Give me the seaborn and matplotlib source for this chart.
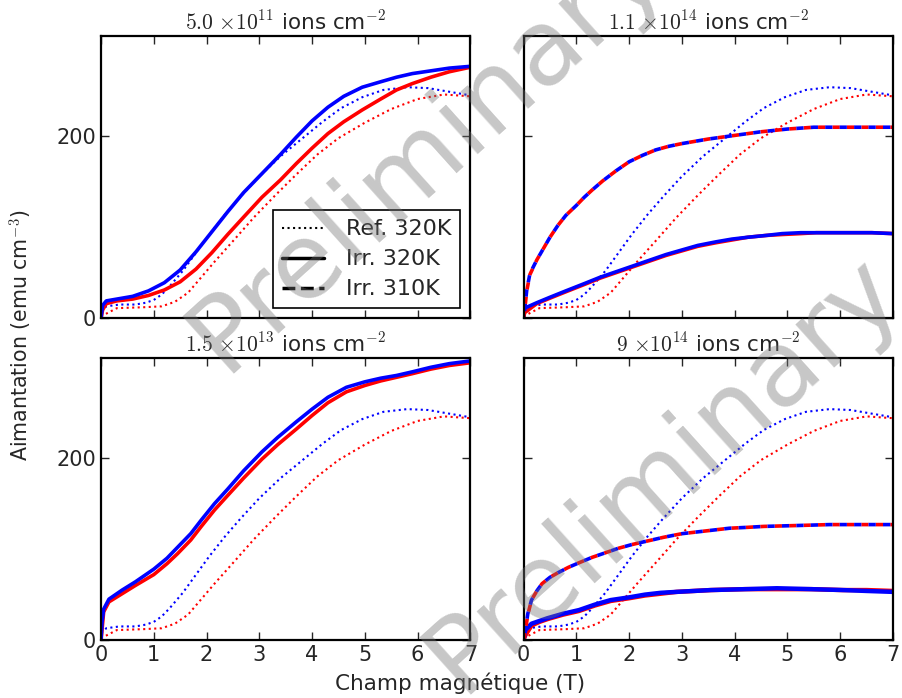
import numpy as np
import pandas as pd
import seaborn as sns
import matplotlib.pyplot as plt
from matplotlib.lines import Line2D

# reference sample (same in every panel), dotted
ref_blue_field = [0, 0.1, 0.35, 0.65, 0.85, 1.0, 1.15, 1.3, 1.55, 1.8, 2.05, 2.35, 2.65, 3.0, 3.4, 3.8, 4.2, 4.55, 4.95, 5.35, 5.8, 6.2, 6.6, 7.0]
ref_blue = [8, 13, 15, 15, 17, 20, 26, 35, 52, 72, 92, 114, 134, 156, 178, 197, 216, 231, 243, 251, 254, 253, 249, 245]
ref_red_field = [0, 0.1, 0.3, 0.8, 1.15, 1.4, 1.65, 1.9, 2.15, 2.55, 2.9, 3.3, 3.7, 4.1, 4.5, 5.0, 5.5, 6.0, 6.5, 7.0]
ref_red = [2, 5, 11, 12, 13, 18, 28, 45, 62, 88, 111, 135, 158, 180, 198, 215, 230, 241, 246, 244]

# 5.0e11 ions/cm2, irr. 320K
tl_field = [0, 0.03, 0.1, 0.3, 0.6, 0.9, 1.2, 1.5, 1.8, 2.1, 2.4, 2.7, 3.05, 3.4, 3.7, 4.0, 4.3, 4.6, 4.95, 5.3, 5.6, 5.9, 6.25, 6.6, 7.0]
tl_blue = [0, 14, 19, 21, 24, 30, 39, 53, 73, 95, 117, 138, 159, 180, 199, 217, 232, 244, 254, 260, 265, 269, 272, 275, 277]
tl_red = [0, 9, 16, 19, 21, 25, 31, 40, 54, 72, 92, 111, 133, 152, 170, 187, 203, 216, 229, 241, 251, 258, 265, 271, 276]

# 1.5e13 ions/cm2, irr. 320K
bl_field = [0, 0.02, 0.05, 0.15, 0.4, 0.65, 1.0, 1.25, 1.45, 1.7, 1.9, 2.15, 2.4, 2.7, 3.05, 3.35, 3.7, 4.0, 4.3, 4.65, 5.0, 5.3, 5.6, 5.9, 6.25, 6.6, 7.0]
bl_blue = [0, 20, 34, 45, 55, 64, 78, 90, 102, 117, 132, 150, 166, 186, 207, 223, 240, 254, 267, 278, 284, 288, 291, 295, 300, 304, 307]
bl_red = [0, 12, 31, 42, 51, 60, 72, 84, 95, 110, 125, 143, 159, 178, 199, 215, 232, 247, 261, 273, 280, 285, 289, 293, 298, 302, 305]

# 1.1e14 ions/cm2
tr_field = [0, 0.02, 0.25, 0.5, 0.8, 1.15, 1.45, 1.75, 2.05, 2.4, 2.7, 3.0, 3.3, 3.65, 3.95, 4.25, 4.6, 4.9, 5.25, 5.55, 6.15, 6.6, 7.0]
tr_blue = [0, 11, 17, 23, 30, 38, 45, 51, 57, 64, 70, 75, 80, 84, 87, 89, 91, 93, 94, 94, 94, 94, 93]
tr_red = [0, 6, 16, 22, 29, 37, 44, 50, 56, 63, 69, 74, 79, 83, 86, 89, 91, 92, 93, 94, 94, 94, 93]
tr_dash_field = [0, 0.03, 0.06, 0.12, 0.25, 0.35, 0.5, 0.65, 0.8, 1.0, 1.15, 1.3, 1.5, 1.75, 2.0, 2.25, 2.5, 2.75, 3.0, 3.5, 4.0, 4.5, 5.0, 5.5, 6.15, 7.0]
tr_dash_blue = [0, 15, 31, 49, 64, 74, 89, 102, 113, 124, 133, 141, 151, 162, 172, 179, 185, 189, 192, 197, 201, 205, 208, 210, 210, 210]
tr_dash_red = [0, 14, 30, 48, 64, 74, 89, 102, 113, 124, 133, 141, 151, 162, 172, 179, 185, 189, 192, 197, 201, 205, 208, 210, 210, 210]

# 9e14 ions/cm2
br_field = [0, 0.03, 0.15, 0.3, 0.45, 0.75, 1.05, 1.35, 1.65, 2.0, 2.3, 2.6, 2.9, 3.55, 4.2, 4.8, 5.45, 6.05, 6.5, 7.0]
br_blue = [0, 11, 18, 21, 24, 29, 33, 39, 44, 47, 50, 52, 53, 55, 56, 57, 56, 55, 54, 53]
br_red = [0, 5, 16, 20, 23, 28, 32, 38, 43, 46, 49, 51, 53, 55, 56, 56, 56, 55, 55, 54]
br_dash_field = [0, 0.03, 0.08, 0.15, 0.25, 0.35, 0.5, 0.65, 0.85, 1.05, 1.3, 1.55, 1.8, 2.05, 2.35, 2.65, 3.0, 3.3, 3.6, 3.9, 4.25, 4.55, 5.2, 5.8, 7.0]
br_dash_blue = [0, 10, 29, 44, 54, 62, 69, 74, 80, 85, 91, 96, 101, 105, 109, 113, 117, 119, 121, 123, 124, 125, 126, 127, 127]
br_dash_red = [0, 9, 28, 44, 54, 62, 69, 74, 80, 85, 91, 96, 101, 105, 109, 113, 117, 119, 121, 123, 124, 125, 126, 127, 127]

titles = [r'$5.0\ {\times}10^{11}$ ions cm$^{-2}$', r'$1.1\ {\times}10^{14}$ ions cm$^{-2}$',
          r'$1.5\ {\times}10^{13}$ ions cm$^{-2}$', r'$9\ {\times}10^{14}$ ions cm$^{-2}$']

sns.set_style('ticks')
plt.rcParams.update({
    'font.family': ['DejaVu Sans'],
    'mathtext.fontset': 'cm',
    'font.size': 15,
    'axes.linewidth': 1.6,
    'xtick.direction': 'in', 'ytick.direction': 'in',
    'xtick.top': True, 'ytick.right': True,
    'xtick.major.size': 6, 'ytick.major.size': 6,
    'xtick.major.width': 1, 'ytick.major.width': 1,
    'xtick.labelsize': 15, 'ytick.labelsize': 15,
    'axes.edgecolor': 'black',
})

fig, axes = plt.subplots(2, 2, figsize=(9.02, 6.98), dpi=100, sharex=True, sharey=True)
plt.subplots_adjust(left=0.112, right=0.990, top=0.948, bottom=0.083, wspace=0.144, hspace=0.142)
axes = axes.ravel()


def line(ax, x, y, color, ls, lw):
    sns.lineplot(x=x, y=y, ax=ax, color=color, linestyle=ls, lw=lw, sort=False, estimator=None)


solid = {0: (tl_field, tl_red, tl_blue), 1: (tr_field, tr_red, tr_blue),
         2: (bl_field, bl_red, bl_blue), 3: (br_field, br_red, br_blue)}
dashed = {1: (tr_dash_field, tr_dash_red, tr_dash_blue), 3: (br_dash_field, br_dash_red, br_dash_blue)}

for i, ax in enumerate(axes):
    line(ax, ref_red_field, ref_red, 'red', ':', 1.5)
    line(ax, ref_blue_field, ref_blue, 'blue', ':', 1.5)
    f, r, b = solid[i]
    w = 3.2 if i == 3 else 2.6
    line(ax, f, r, 'red', '-', w)
    line(ax, f, b, 'blue', '-', w)
    if i in dashed:
        f, r, b = dashed[i]
        line(ax, f, r, 'red', (0, (2, 2)), 2.6)
        line(ax, f, b, 'blue', (2, (2, 2)), 2.6)
    ax.set_title(titles[i], fontsize=15.5, pad=5)
    ax.set_xlim(0, 7)
    ax.set_ylim(0, 310)
    ax.set_xticks(range(8))
    ax.set_yticks([0, 200])
    ax.set_xlabel('')
    ax.set_ylabel('')

handles = [Line2D([], [], color='k', ls=':', lw=1.5),
           Line2D([], [], color='k', ls='-', lw=2.5),
           Line2D([], [], color='k', ls='--', lw=2.5)]
leg = axes[0].legend(handles, ['Ref. 320K', 'Irr. 320K', 'Irr. 310K'], loc='lower right',
                     fontsize=16, fancybox=False, framealpha=1, edgecolor='black',
                     handlelength=1.9, handletextpad=1.0, borderaxespad=0.45,
                     labelspacing=0.45, borderpad=0.4)
leg.get_frame().set_linewidth(1.2)

fig.text(0.51, 0.021, 'Champ magnétique (T)', ha='center', va='center', fontsize=15.5)
fig.text(0.024, 0.52, 'Aimantation (emu cm$^{-3}$)', ha='center', va='center', rotation=90, fontsize=14.8)

for x, y in [(0.472, 0.782), (0.735, 0.322)]:
    fig.text(x, y, 'Preliminary', fontsize=76, rotation=42, color='0.45', alpha=0.4,
             ha='center', va='center', rotation_mode='anchor', zorder=10)

fig.savefig('out.png', dpi=100)
